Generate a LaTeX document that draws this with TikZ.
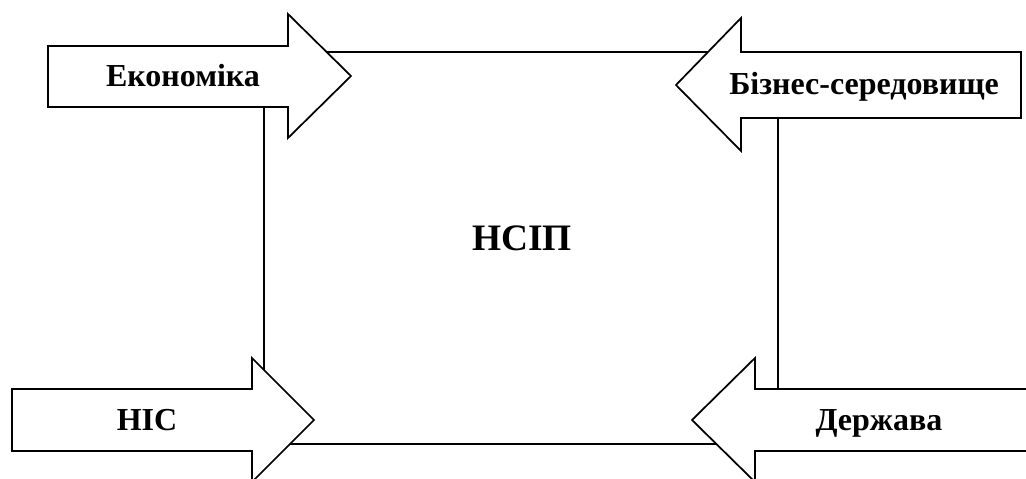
\documentclass[tikz,border=0pt]{standalone}
\usepackage{fontspec}
\setmainfont{Liberation Serif}
\usepackage{tikz}

\begin{document}
\begin{tikzpicture}[x=0.75pt, y=-0.75pt,
	outline/.style={draw, line width=1.3pt},
	blockarrow/.style={draw, fill=white, line width=1.3pt, line join=miter},
	label/.style={font=\fontsize{24}{28}\selectfont\bfseries, inner sep=0pt, anchor=base}]
	\useasboundingbox (0,0) rectangle (1026,479);
	\clip (0,0) rectangle (1026,479);
	
	% central system
	\draw[outline] (264,52) rectangle (778,444);
	\node[label, font=\fontsize{28}{32}\selectfont\bfseries] (nsip) at (522,250) {НСІП};
	
	% incoming influences
	\draw[blockarrow] (48,46) -- (288,46) -- (288,14) -- (351,76) -- (288,138) -- (288,107) -- (48,107) -- cycle;
	\node[label] (econ) at (183,86) {Економіка};
	
	\draw[blockarrow] (1021,52) -- (741,52) -- (741,18) -- (676,85) -- (741,151) -- (741,118) -- (1021,118) -- cycle;
	\node[label] (biz) at (864,94) {Бізнес-середовище};
	
	\draw[blockarrow] (12,389) -- (252,389) -- (252,358) -- (314,420) -- (252,482) -- (252,451) -- (12,451) -- cycle;
	\node[label] (nis) at (147,430) {НІС};
	
	\draw[blockarrow] (1040,389) -- (755,389) -- (755,358) -- (692,420) -- (755,482) -- (755,451) -- (1040,451) -- cycle;
	\node[label] (state) at (879,430) {Держава};
	
\end{tikzpicture}
\end{document}
